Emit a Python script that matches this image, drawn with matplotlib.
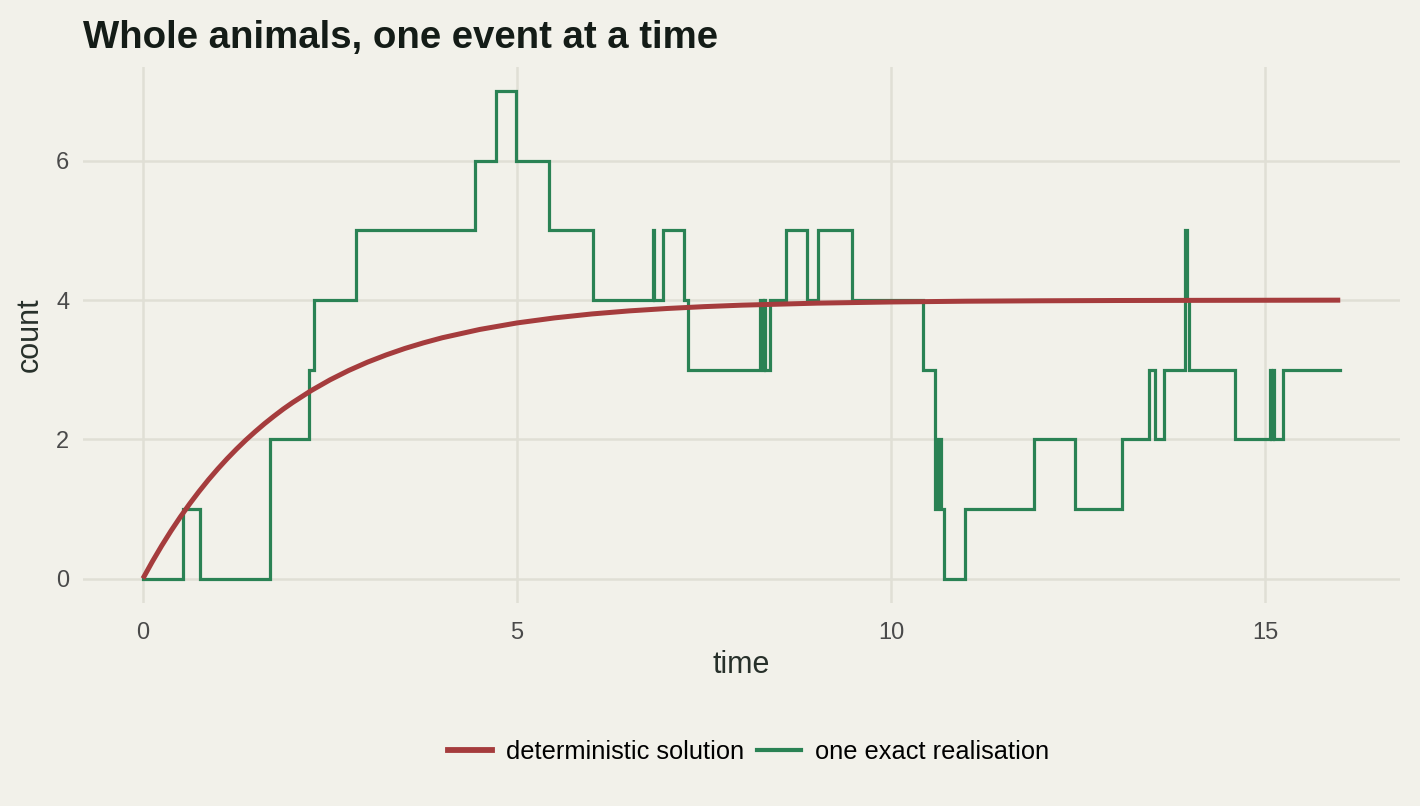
import matplotlib
matplotlib.use("Agg")
import matplotlib.pyplot as plt
from matplotlib.lines import Line2D

plt.rcParams['font.family'] = ['Liberation Sans', 'DejaVu Sans']

# Stochastic realisation: event times and counts after each event
event_times = [0.00, 0.53, 0.76, 1.70, 1.70, 2.22, 2.28, 2.85, 4.44, 4.72, 4.99,
               5.43, 6.01, 6.81, 6.83, 6.95, 7.23, 7.28, 8.25, 8.28, 8.30, 8.31,
               8.38, 8.60, 8.87, 9.02, 9.48, 10.42, 10.58, 10.59, 10.63, 10.66,
               10.70, 10.99, 11.91, 12.45, 13.09, 13.45, 13.52, 13.64, 13.92,
               13.93, 13.95, 13.98, 14.60, 15.06, 15.08, 15.10, 15.12, 15.24, 16.00]
event_counts = [0, 1, 0, 1, 2, 3, 4, 5, 6, 7, 6,
                5, 4, 5, 4, 5, 4, 3, 4, 3, 4, 3,
                4, 5, 4, 5, 4, 3, 2, 1, 2, 1,
                0, 1, 2, 1, 2, 3, 2, 3, 4,
                5, 4, 3, 2, 3, 2, 3, 2, 3, 3]

# Deterministic solution
det_t = [0, 0.125, 0.25, 0.375, 0.5, 0.625, 0.75, 0.875, 1.0, 1.125, 1.25,
         1.375, 1.5, 1.625, 1.75, 1.875, 2.0, 2.25, 2.5, 2.75, 3.0, 3.25, 3.5,
         3.75, 4.0, 4.5, 5.0, 5.5, 6.0, 6.5, 7.0, 7.5, 8.0, 9.0, 10.0, 11.0,
         12.0, 13.0, 14.0, 16.0]
det_y = [0.000, 0.242, 0.470, 0.684, 0.885, 1.074, 1.251, 1.418, 1.574, 1.721,
         1.859, 1.989, 2.110, 2.225, 2.332, 2.434, 2.528, 2.701, 2.854, 2.989,
         3.108, 3.212, 3.305, 3.386, 3.459, 3.578, 3.672, 3.744, 3.801, 3.845,
         3.879, 3.906, 3.927, 3.956, 3.973, 3.984, 3.990, 3.994, 3.996, 3.999]

x_ticks = [0, 5, 10, 15]
y_ticks = [0, 2, 4, 6]

bg = '#F2F1EA'
red = '#A53C3D'
green = '#2A8254'
grid = '#E0DFD5'

fig = plt.figure(figsize=(14.2, 8.06), dpi=100, facecolor=bg)
ax = fig.add_axes([0.0585, 0.252, 0.9275, 0.665], facecolor=bg)

ax.plot(event_times, event_counts, drawstyle='steps-post', color=green,
        lw=2.3, solid_joinstyle='miter', zorder=3)
ax.plot(det_t, det_y, color=red, lw=3.6, solid_capstyle='butt',
        solid_joinstyle='round', zorder=4)

ax.set_xlim(-0.8, 16.8)
ax.set_ylim(-0.35, 7.35)
ax.set_xticks(x_ticks)
ax.set_yticks(y_ticks)
ax.grid(True, color=grid, lw=1.8, zorder=0)
ax.set_axisbelow(True)
for s in ax.spines.values():
    s.set_visible(False)
ax.tick_params(length=0, labelsize=17, labelcolor='#4A4A4A', pad=10)
ax.tick_params(axis='x', pad=14)
ax.set_xlabel('time', fontsize=22, color='#27302A', labelpad=4)
ax.set_ylabel('count', fontsize=22, color='#27302A', labelpad=8)

fig.text(0.0585, 0.94, 'Whole animals, one event at a time', fontsize=27.6,
         fontweight='bold', color='#141C17', ha='left', va='baseline')

handles = [Line2D([], [], color=red, lw=4.2), Line2D([], [], color=green, lw=3.0)]
fig.legend(handles, ['deterministic solution', 'one exact realisation'],
           loc='center', bbox_to_anchor=(0.527, 0.067), ncol=2, frameon=False,
           fontsize=18.3, handlelength=1.75, handletextpad=0.52, columnspacing=0.52)

fig.savefig('out.png', dpi=100, facecolor=bg)
